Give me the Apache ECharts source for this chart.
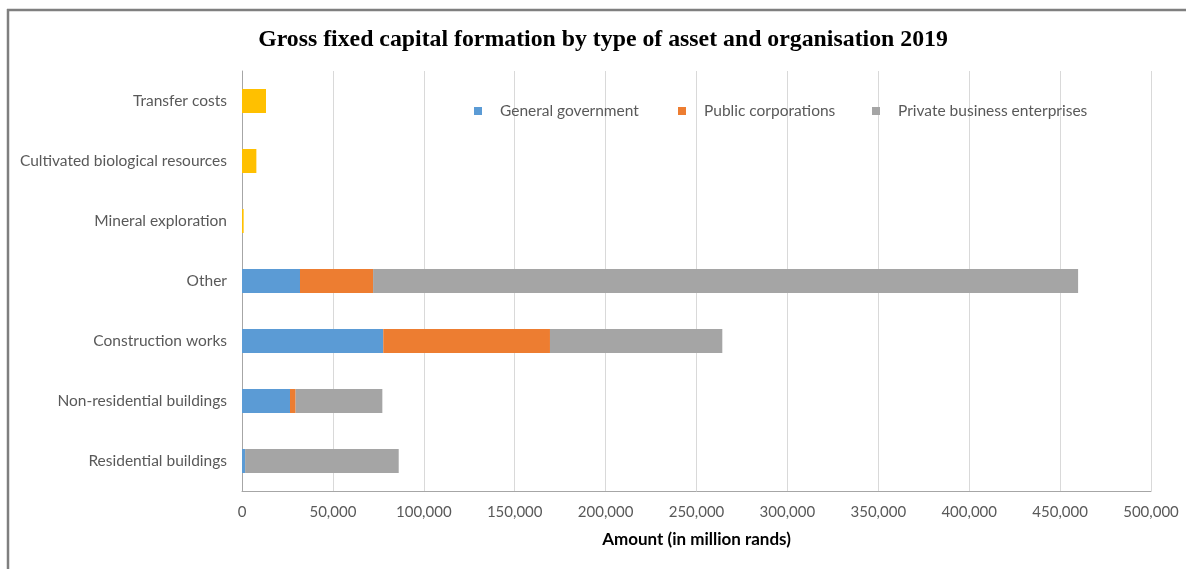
<!DOCTYPE html>
<html>
<head>
<meta charset="utf-8">
<script src="https://cdn.jsdelivr.net/npm/echarts@6/dist/echarts.min.js"></script>
<style>html,body{margin:0;padding:0;background:#fff;}#chart{width:1186px;height:569px;}</style>
</head>
<body>
<div id="chart"></div>
<script>
const categories = ["Residential buildings","Non-residential buildings","Construction works","Other","Mineral exploration","Cultivated biological resources","Transfer costs"];
const generalGovernment = [1700, 26400, 77700, 31900, null, null, null];
const publicCorporations = [0, 3100, 91700, 40200, null, null, null];
const privateBusiness = [84500, 47700, 94800, 387800, null, null, null];
const otherAssets = [null, null, null, null, 900, 7900, 13200];
const legendNames = ['General government', 'Public corporations', 'Private business enterprises'];
const xTicks = {min: 0, max: 500000, interval: 50000};

const labelColor = '#595959';
const font = 'Lato';
const chart = echarts.init(document.getElementById('chart'), null, {renderer: 'canvas'});
const barW = 24;
const mk = (name, data, color) => ({
  name, type: 'bar', stack: 'total', data, barWidth: barW,
  itemStyle: {color},
  silent: true
});
const legendLefts = [469, 673, 867];
const mkLegend = (name, i) => ({
  data: [name], left: legendLefts[i], top: 98, itemWidth: 8, itemHeight: 8,
  icon: 'rect',
  textStyle: {fontFamily: font, fontSize: 15.5, color: labelColor, padding: [0, 0, 0, 13]}
});
chart.setOption({
  animation: false,
  backgroundColor: '#fff',
  title: {
    text: 'Gross fixed capital formation by type of asset and organisation 2019',
    left: 598, textAlign: 'center', top: 23,
    textStyle: {fontFamily: 'Liberation Serif', fontWeight: 'bold', fontSize: 23.8, color: '#000'}
  },
  legend: legendNames.map(mkLegend),
  grid: {left: 242, right: 35, top: 71, bottom: 78, containLabel: false},
  xAxis: {
    type: 'value', min: xTicks.min, max: xTicks.max, interval: xTicks.interval,
    name: 'Amount (in million rands)', nameLocation: 'middle', nameGap: 40,
    nameTextStyle: {fontFamily: font, fontWeight: 'bold', fontSize: 17, color: '#000'},
    axisLine: {show: true, lineStyle: {color: '#a6a6a6', width: 1}},
    axisTick: {show: false},
    splitLine: {show: true, lineStyle: {color: '#d9d9d9', width: 1}},
    axisLabel: {
      fontFamily: font, fontSize: 15, color: labelColor, margin: 14,
      formatter: v => v.toLocaleString('en-US')
    }
  },
  yAxis: {
    type: 'category', data: categories,
    axisLine: {show: true, lineStyle: {color: '#a6a6a6', width: 1}},
    axisTick: {show: false},
    axisLabel: {fontFamily: font, fontSize: 15.5, color: labelColor, margin: 15}
  },
  series: [
    mk(legendNames[0], generalGovernment, '#5b9bd5'),
    mk(legendNames[1], publicCorporations, '#ed7d31'),
    mk(legendNames[2], privateBusiness, '#a5a5a5'),
    mk('Other assets', otherAssets, '#ffc000')
  ],
  graphic: [
    {type: 'line', shape: {x1: 7, y1: 10, x2: 1186, y2: 10}, style: {stroke: '#7f7f7f', lineWidth: 2.5}},
    {type: 'line', shape: {x1: 8, y1: 9, x2: 8, y2: 569}, style: {stroke: '#7f7f7f', lineWidth: 2.5}}
  ]
});
</script>
</body>
</html>
